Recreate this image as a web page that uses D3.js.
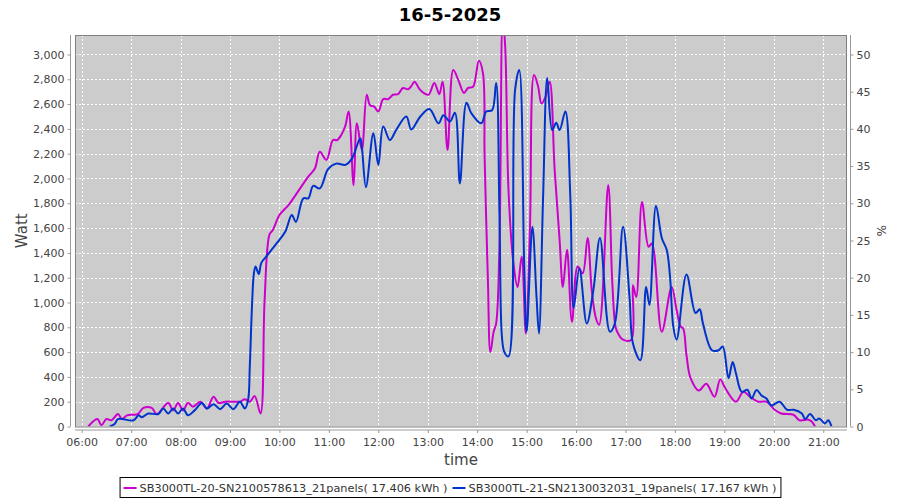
<!DOCTYPE html>
<html>
<head>
<meta charset="utf-8">
<script src="https://cdn.jsdelivr.net/npm/d3@7"></script>
<style>
  html, body { margin: 0; padding: 0; background: #ffffff; }
  svg { display: block; }
  text { font-family: "DejaVu Sans", sans-serif; }
</style>
</head>
<body>
<svg id="chart" width="900" height="500"></svg>
<script>
// ---------------- DATA ----------------
const chartTitle = "16-5-2025";
const seriesNames = [
  "SB3000TL-20-SN2100578613_21panels( 17.406 kWh )",
  "SB3000TL-21-SN2130032031_19panels( 17.167 kWh )"
];
const seriesColors = ["#cc00cc", "#0033cc"];

const magentaTimes = ["06:08","06:19","06:24","06:30","06:36","06:44","06:49","06:55","07:02","07:08","07:15","07:25","07:31","07:45","07:51","07:57","08:03","08:09","08:15","08:24","08:32","08:40","08:46","08:54","09:05","09:12","09:18","09:24","09:30","09:37","09:42","09:48","09:52","10:00","10:11","10:21","10:35","10:43","10:49","10:57","11:05","11:10","11:15","11:20","11:24","11:30","11:34","11:40","11:46","11:50","11:55","12:00","12:06","12:12","12:18","12:24","12:30","12:36","12:40","12:44","12:50","12:55","13:01","13:08","13:14","13:18","13:24","13:31","13:37","13:44","13:49","13:55","14:02","14:07","14:09","14:13","14:16","14:20","14:23","14:27","14:31","14:34","14:38","14:44","14:49","14:54","14:59","15:04","15:09","15:14","15:18","15:23","15:28","15:34","15:40","15:44","15:49","15:55","16:02","16:08","16:14","16:19","16:24","16:28","16:39","16:44","16:48","16:51","16:57","17:07","17:09","17:13","17:20","17:28","17:32","17:44","17:56","18:02","18:07","18:10","18:14","18:19","18:29","18:38","18:48","18:55","19:01","19:14","19:23","19:31","19:41","19:51","20:01","20:09","20:24","20:31","20:42","20:46","20:50"];
const magentaWatts = [0,60,10,60,50,100,60,90,95,100,150,150,100,190,130,190,130,190,160,200,145,240,190,200,200,200,220,200,245,105,1020,1550,1585,1705,1785,1880,2015,2080,2215,2150,2310,2310,2350,2425,2540,1945,2445,2230,2675,2590,2580,2540,2640,2640,2675,2680,2730,2720,2745,2780,2720,2690,2675,2770,2680,2780,2230,2875,2795,2690,2730,2740,2950,2850,2175,1180,600,765,830,1450,3300,3060,1905,1315,1125,1370,750,1585,2835,2740,2605,2660,2780,2070,1505,1125,1425,845,1290,1235,1520,1100,875,820,1945,1155,800,750,700,700,1140,1045,1810,1450,1475,765,1125,940,805,790,575,390,290,345,240,380,310,200,280,240,200,200,135,105,95,50,55,40,0];

const blueTimes = ["06:34","06:40","06:44","07:03","07:09","07:13","07:21","07:33","07:39","07:45","07:51","07:57","08:03","08:09","08:17","08:26","08:32","08:40","08:48","08:56","09:04","09:12","09:18","09:22","09:24","09:27","09:29","09:31","09:35","09:38","09:44","09:57","10:07","10:15","10:20","10:29","10:35","10:41","10:49","10:59","11:09","11:20","11:28","11:38","11:40","11:45","11:54","12:00","12:06","12:14","12:22","12:34","12:40","12:51","13:02","13:13","13:19","13:27","13:33","13:39","13:47","13:53","14:05","14:11","14:18","14:23","14:27","14:30","14:33","14:38","14:46","14:51","14:57","15:00","15:07","15:12","15:15","15:20","15:25","15:31","15:36","15:40","15:47","15:53","15:57","16:04","16:13","16:21","16:29","16:41","16:47","16:57","17:05","17:09","17:18","17:25","17:29","17:37","17:44","17:50","17:54","17:58","18:02","18:14","18:25","18:30","18:34","18:45","18:53","18:58","19:05","19:10","19:14","19:21","19:28","19:33","19:39","19:45","19:51","19:57","20:07","20:16","20:24","20:34","20:38","20:44","20:51","20:55","21:02","21:06","21:10"];
const blueWatts = [0,20,60,50,90,75,105,100,145,105,145,105,145,90,130,190,145,180,140,185,140,200,145,215,480,1020,1235,1290,1230,1320,1370,1480,1570,1705,1650,1840,1840,1940,1920,2075,2120,2110,2160,2325,2255,1930,2365,2110,2420,2310,2395,2500,2395,2500,2560,2445,2510,2460,2530,1960,2610,2525,2445,2540,2550,2770,1720,725,600,565,2715,2875,1315,765,1610,1045,750,1855,2810,2390,2450,2390,2540,1855,955,1275,830,1100,1520,765,830,1610,1030,670,535,1125,980,1780,1520,1425,1210,805,700,1225,915,945,830,615,615,645,390,520,430,280,295,225,295,250,225,170,200,135,135,105,60,100,50,65,25,50,0];

const leftTicks = [0,200,400,600,800,1000,1200,1400,1600,1800,2000,2200,2400,2600,2800,3000];
const rightTicks = [0,5,10,15,20,25,30,35,40,45,50];
const hourTicks = ["06:00","07:00","08:00","09:00","10:00","11:00","12:00","13:00","14:00","15:00","16:00","17:00","18:00","19:00","20:00","21:00"];
const xDomain = ["05:51:54","21:28:48"];
const yMaxWatt = 3157;
const wattPerPercent = 60;

// ---------------- LAYOUT ----------------
const svg = d3.select("#chart");
const plot = { left: 75, right: 847, top: 35, bottom: 426.5 };
const parseT = d3.timeParse("%H:%M");
const parseTs = d3.timeParse("%H:%M:%S");

const x = d3.scaleTime()
  .domain(xDomain.map(parseTs))
  .range([plot.left, plot.right]);
const y = d3.scaleLinear().domain([0, yMaxWatt]).range([plot.bottom, plot.top]);
const yR = d3.scaleLinear().domain([0, yMaxWatt / wattPerPercent]).range([plot.bottom, plot.top]);

// title
svg.append("text")
  .attr("x", 450).attr("y", 21)
  .attr("text-anchor", "middle")
  .style("font-size", "18px").style("font-weight", "bold").style("fill", "#000")
  .text(chartTitle);

// plot background
svg.append("rect")
  .attr("x", plot.left).attr("y", plot.top)
  .attr("width", plot.right - plot.left).attr("height", plot.bottom - plot.top)
  .attr("fill", "#cccccc");

// gridlines
const grid = svg.append("g");
grid.selectAll(".hg").data(leftTicks).join("line")
  .attr("x1", plot.left).attr("x2", plot.right)
  .attr("y1", d => Math.round(y(d)) + 0.5).attr("y2", d => Math.round(y(d)) + 0.5)
  .attr("stroke", "#ffffff").attr("stroke-width", 1).attr("stroke-dasharray", "2,2");
grid.selectAll(".vg").data(hourTicks).join("line")
  .attr("x1", d => Math.round(x(parseT(d))) + 0.5).attr("x2", d => Math.round(x(parseT(d))) + 0.5)
  .attr("y1", plot.top).attr("y2", plot.bottom)
  .attr("stroke", "#ffffff").attr("stroke-width", 1).attr("stroke-dasharray", "2,2");

// clip
svg.append("clipPath").attr("id", "plotclip")
  .append("rect")
  .attr("x", plot.left).attr("y", plot.top)
  .attr("width", plot.right - plot.left).attr("height", plot.bottom - plot.top);

const line = d3.line()
  .x(d => x(d.t))
  .y(d => y(d.v))
  .curve(d3.curveCatmullRom.alpha(0.5));

const series = [
  magentaTimes.map((t, i) => ({ t: parseT(t), v: magentaWatts[i] })),
  blueTimes.map((t, i) => ({ t: parseT(t), v: blueWatts[i] }))
];

const lines = svg.append("g").attr("clip-path", "url(#plotclip)");
series.forEach((s, i) => {
  lines.append("path")
    .datum(s)
    .attr("d", line)
    .attr("fill", "none")
    .attr("stroke", seriesColors[i])
    .attr("stroke-width", 2)
    .attr("stroke-linejoin", "round");
});

// plot border
svg.append("rect")
  .attr("x", plot.left + 0.5).attr("y", plot.top + 0.5)
  .attr("width", plot.right - plot.left - 1).attr("height", plot.bottom - plot.top)
  .attr("fill", "none").attr("stroke", "#808080").attr("stroke-width", 1);

// axes
const tickColor = "#444444";
const axisColor = "#999999";

const leftAxis = svg.append("g")
  .attr("transform", `translate(${plot.left - 4.5},0)`)
  .call(d3.axisLeft(y).tickValues(leftTicks).tickSize(3).tickPadding(3).tickFormat(d3.format(",")));
const rightAxis = svg.append("g")
  .attr("transform", `translate(${plot.right + 3.5},0)`)
  .call(d3.axisRight(yR).tickValues(rightTicks).tickSize(3).tickPadding(3).tickFormat(d3.format("d")));
const bottomAxis = svg.append("g")
  .attr("transform", `translate(0,${plot.bottom + 3.5})`)
  .call(d3.axisBottom(x).tickValues(hourTicks.map(parseT)).tickSize(3).tickPadding(5).tickFormat(d3.timeFormat("%H:%M")));

[leftAxis, rightAxis, bottomAxis].forEach(a => {
  a.select(".domain").attr("stroke", axisColor);
  a.selectAll(".tick line").attr("stroke", axisColor);
  a.selectAll(".tick text").attr("fill", tickColor)
    .style("font-size", "11px").style("font-family", "'DejaVu Sans', sans-serif");
});
leftAxis.select(".domain").attr("d", `M0,${plot.top}V${plot.bottom}`);
rightAxis.select(".domain").attr("d", `M0,${plot.top}V${plot.bottom}`);
bottomAxis.select(".domain").attr("d", `M${plot.left},0H${plot.right}`);

// axis labels
svg.append("text")
  .attr("transform", `translate(27,${(plot.top + plot.bottom) / 2}) rotate(-90)`)
  .attr("text-anchor", "middle")
  .style("font-size", "15px").style("fill", "#444")
  .text("Watt");
svg.append("text")
  .attr("x", (plot.left + plot.right) / 2).attr("y", 465)
  .attr("text-anchor", "middle")
  .style("font-size", "15px").style("fill", "#444")
  .text("time");
svg.append("text")
  .attr("transform", `translate(877,${(plot.top + plot.bottom) / 2}) rotate(90)`)
  .attr("text-anchor", "middle")
  .style("font-size", "12px").style("fill", "#444")
  .text("%");

// legend
const legend = svg.append("g");
let cx = 0;
seriesNames.forEach((name, i) => {
  const g = legend.append("g").attr("transform", `translate(${cx},0)`);
  g.append("line").attr("x1", 0).attr("x2", 13).attr("y1", 0).attr("y2", 0)
    .attr("stroke", seriesColors[i]).attr("stroke-width", 2);
  const t = g.append("text").attr("x", 16).attr("y", 4)
    .style("font-size", "11.3px").style("fill", "#333").text(name);
  const w = t.node().getComputedTextLength();
  cx += 16 + w + 5;
});
const legendW = cx + 1;
const legendX = 450 - legendW / 2;
legend.attr("transform", `translate(${legendX + 3},488)`);
svg.append("rect")
  .attr("x", legendX - 0.5).attr("y", 477.5)
  .attr("width", legendW + 2).attr("height", 20)
  .attr("fill", "none").attr("stroke", "#000").attr("stroke-width", 1);
</script>
</body>
</html>
